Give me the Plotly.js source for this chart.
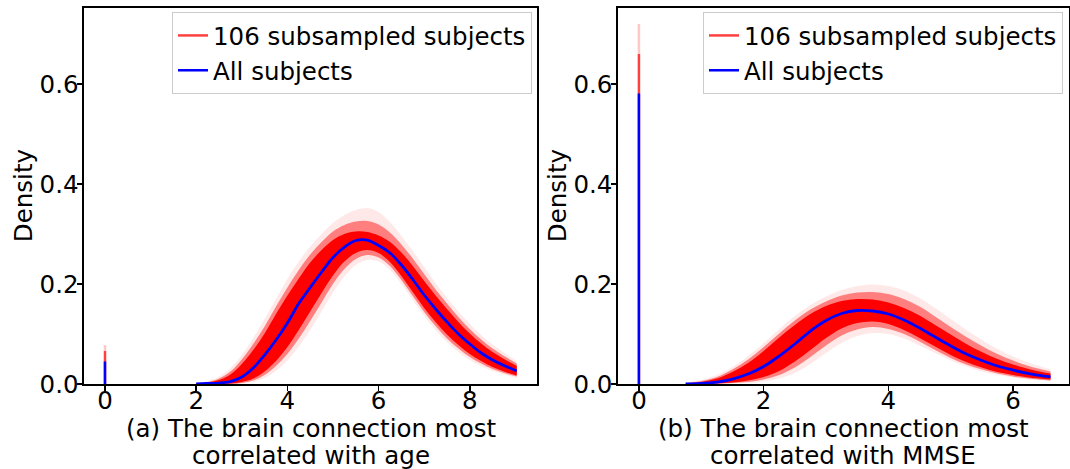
<!DOCTYPE html>
<html>
<head>
<meta charset="utf-8">
<script src="https://cdn.plot.ly/plotly-3.0.1.min.js"></script>
<style>html,body{margin:0;padding:0;background:#fff;}#chart{width:1070px;height:469px;}</style>
</head>
<body>
<div id="chart"></div>
<script>
// ---------- Panel (a): connection most correlated with age ----------
const ageX        = [2.0,2.25,2.5,2.75,3.0,3.25,3.5,3.75,4.0,4.25,4.5,4.75,5.0,5.25,5.5,5.75,6.0,6.25,6.5,6.75,7.0,7.25,7.5,7.75,8.0,8.25,8.5,8.75,9.03];
const ageAll      = [0.000,0.001,0.002,0.005,0.014,0.032,0.058,0.088,0.122,0.161,0.193,0.224,0.253,0.274,0.287,0.288,0.277,0.262,0.238,0.209,0.178,0.150,0.124,0.100,0.080,0.062,0.048,0.037,0.026];
const ageCoreHi   = [0.001,0.003,0.008,0.019,0.040,0.068,0.101,0.140,0.177,0.211,0.243,0.268,0.288,0.300,0.305,0.304,0.297,0.284,0.263,0.236,0.206,0.177,0.150,0.124,0.101,0.081,0.064,0.050,0.036];
const ageCoreLo   = [0.000,0.000,0.000,0.001,0.004,0.011,0.025,0.046,0.074,0.108,0.145,0.182,0.217,0.245,0.262,0.268,0.262,0.244,0.216,0.184,0.152,0.124,0.099,0.078,0.060,0.046,0.034,0.025,0.017];
const ageMidHi    = [0.001,0.004,0.011,0.025,0.049,0.080,0.115,0.155,0.193,0.228,0.259,0.284,0.305,0.318,0.325,0.326,0.319,0.303,0.279,0.251,0.220,0.189,0.161,0.134,0.110,0.089,0.071,0.056,0.041];
const ageMidLo    = [0.000,0.000,0.000,0.000,0.002,0.007,0.018,0.036,0.060,0.091,0.126,0.163,0.200,0.230,0.250,0.258,0.253,0.236,0.208,0.176,0.144,0.116,0.091,0.071,0.054,0.041,0.030,0.022,0.015];
const ageFringeHi = [0.002,0.006,0.015,0.032,0.058,0.092,0.130,0.170,0.210,0.245,0.275,0.300,0.322,0.338,0.348,0.352,0.344,0.324,0.296,0.266,0.234,0.202,0.172,0.145,0.120,0.098,0.079,0.063,0.046];
const ageFringeLo = [0.000,0.000,0.000,0.000,0.001,0.004,0.012,0.026,0.047,0.075,0.108,0.145,0.183,0.215,0.238,0.248,0.245,0.228,0.200,0.168,0.136,0.108,0.084,0.064,0.048,0.036,0.026,0.019,0.012];
const ageSpikeAll = 0.045;          // point mass at 0, all subjects
const ageSpikeSub = [0.066, 0.078]; // subsampled: dense top, faint top

// ---------- Panel (b): connection most correlated with MMSE ----------
const mmseX        = [0.75,1.0,1.25,1.5,1.75,2.0,2.25,2.5,2.75,3.0,3.25,3.5,3.75,4.0,4.25,4.5,4.75,5.0,5.25,5.5,5.75,6.0,6.25,6.5,6.6];
const mmseAll      = [0.000,0.001,0.004,0.010,0.020,0.035,0.056,0.080,0.106,0.127,0.141,0.147,0.146,0.140,0.128,0.112,0.094,0.076,0.060,0.047,0.036,0.028,0.021,0.016,0.0145];
const mmseCoreHi   = [0.001,0.004,0.011,0.024,0.042,0.066,0.093,0.118,0.140,0.156,0.166,0.170,0.169,0.163,0.152,0.137,0.118,0.099,0.080,0.064,0.050,0.039,0.030,0.023,0.021];
const mmseCoreLo   = [0.000,0.000,0.001,0.003,0.007,0.014,0.026,0.045,0.068,0.092,0.111,0.122,0.125,0.120,0.108,0.092,0.075,0.058,0.044,0.033,0.024,0.018,0.013,0.010,0.009];
const mmseMidHi    = [0.002,0.006,0.014,0.029,0.049,0.074,0.101,0.127,0.149,0.165,0.177,0.183,0.184,0.180,0.170,0.155,0.135,0.114,0.094,0.076,0.060,0.047,0.036,0.028,0.025];
const mmseMidLo    = [0.000,0.000,0.0005,0.002,0.004,0.009,0.018,0.033,0.054,0.077,0.097,0.109,0.114,0.110,0.100,0.085,0.068,0.052,0.039,0.029,0.021,0.015,0.011,0.008,0.007];
const mmseFringeHi = [0.003,0.008,0.018,0.034,0.056,0.082,0.110,0.136,0.158,0.175,0.188,0.196,0.199,0.196,0.187,0.172,0.152,0.130,0.108,0.088,0.070,0.055,0.043,0.033,0.030];
const mmseFringeLo = [0.000,0.000,0.000,0.001,0.002,0.005,0.011,0.022,0.040,0.062,0.082,0.096,0.102,0.100,0.091,0.077,0.062,0.047,0.035,0.025,0.018,0.013,0.009,0.007,0.006];
const mmseSpikeAll = 0.581;
const mmseSpikeSub = [0.660, 0.720];

const legendSub = '106 subsampled subjects';
const legendAll = 'All subjects';
const xTitleA = ['(a) The brain connection most', 'correlated with age'];
const xTitleB = ['(b) The brain connection most', 'correlated with MMSE'];
const yTitle = 'Density';
const yTicks = [0, 0.2, 0.4, 0.6];

const RED = '#ff0000', FRINGE = 'rgba(255,0,0,0.09)', MID = 'rgba(255,0,0,0.45)', BLUE = '#0000ff';

function band(xa, ya, X, lo, hi, color) {
  const sp = {shape: 'spline', smoothing: 1};
  return [
    {x: X, y: lo, xaxis: xa, yaxis: ya, mode: 'lines', line: Object.assign({width: 0, color: color}, sp), showlegend: false, hoverinfo: 'skip'},
    {x: X, y: hi, xaxis: xa, yaxis: ya, mode: 'lines', fill: 'tonexty', fillcolor: color, line: Object.assign({width: 0, color: color}, sp), showlegend: false, hoverinfo: 'skip'}
  ];
}

function panel(xa, ya, leg, X, all, cHi, cLo, mHi, mLo, fHi, fLo, spikeAll, spikeSub) {
  return [].concat(
    band(xa, ya, X, fLo, fHi, FRINGE),
    band(xa, ya, X, mLo, mHi, MID),
    band(xa, ya, X, cLo, cHi, RED),
    [
      {x: [0, 0], y: [spikeSub[0], spikeSub[1]], xaxis: xa, yaxis: ya, mode: 'lines', line: {width: 2.5, color: 'rgba(255,0,0,0.22)'}, showlegend: false, hoverinfo: 'skip'},
      {x: [0, 0], y: [0, spikeSub[0]], xaxis: xa, yaxis: ya, mode: 'lines', name: legendSub, legend: leg, line: {width: 2.5, color: 'rgba(255,0,0,0.75)'}, showlegend: true},
      {x: X, y: all, xaxis: xa, yaxis: ya, mode: 'lines', line: {width: 2.8, color: BLUE, shape: 'spline', smoothing: 1}, showlegend: false},
      {x: [0, 0], y: [0, spikeAll], xaxis: xa, yaxis: ya, mode: 'lines', name: legendAll, legend: leg, line: {width: 2.5, color: BLUE}, showlegend: true}
    ]
  );
}

const data = [].concat(
  panel('x', 'y', 'legend', ageX, ageAll, ageCoreHi, ageCoreLo, ageMidHi, ageMidLo, ageFringeHi, ageFringeLo, ageSpikeAll, ageSpikeSub),
  panel('x2', 'y2', 'legend2', mmseX, mmseAll, mmseCoreHi, mmseCoreLo, mmseMidHi, mmseMidLo, mmseFringeHi, mmseFringeLo, mmseSpikeAll, mmseSpikeSub)
);

const FONT = 'DejaVu Sans, Verdana, sans-serif';
const TITLE_FONT = {family: FONT, size: 24.5, color: '#000'};
const axBase = {
  showline: true, mirror: true, linecolor: '#000', linewidth: 2,
  ticks: 'outside', ticklen: 5, tickwidth: 1.5, tickcolor: '#000',
  showgrid: false, zeroline: false, automargin: false,
  tickfont: {family: FONT, size: 24.5, color: '#000'}
};
function xa(domain, range, anchor) {
  return Object.assign({}, axBase, {domain: domain, range: range, anchor: anchor, tickmode: 'linear', tick0: 0, dtick: 2,
    ticklabelstandoff: -11});
}
function ya(domain, anchor) {
  return Object.assign({}, axBase, {domain: domain, range: [0, 0.7514], anchor: anchor, tickvals: yTicks, tickformat: '.1f',
    ticklabelstandoff: -6});
}
const yDom = [0.1812, 0.9823];
const legBase = {
  font: {family: FONT, size: 24.5, color: '#000'}, bgcolor: 'rgba(255,255,255,0.8)',
  bordercolor: '#cccccc', borderwidth: 1, xanchor: 'right', yanchor: 'top', itemwidth: 30,
  tracegroupgap: 0, traceorder: 'normal'
};

// axis titles as annotations (exact placement), one annotation per line of the label
function xTitleLine(ref, text, centerPx) {
  return {text: text, xref: ref + ' domain', x: 0.5, xanchor: 'center', yref: 'paper', y: 1 - centerPx / 469, yanchor: 'middle',
    showarrow: false, align: 'center', font: TITLE_FONT};
}
function yTitleAnn(px) {
  return {text: yTitle, textangle: -90, xref: 'paper', x: px / 1070, xanchor: 'center', yref: 'paper', y: (yDom[0] + yDom[1]) / 2,
    yanchor: 'middle', showarrow: false, font: TITLE_FONT};
}

const layout = {
  width: 1070, height: 469,
  margin: {l: 0, r: 0, t: 0, b: 0},
  paper_bgcolor: '#fff', plot_bgcolor: '#fff',
  font: {family: FONT, color: '#000'},
  xaxis: xa([0.0789, 0.5017], [-0.451, 9.47], 'y'),
  yaxis: ya(yDom, 'x'),
  xaxis2: xa([0.5779, 0.9986], [-0.33, 6.889], 'y2'),
  yaxis2: ya(yDom, 'x2'),
  legend: Object.assign({}, legBase, {x: 532 / 1070, y: 1 - 12 / 469}),
  legend2: Object.assign({}, legBase, {x: 1063 / 1070, y: 1 - 12 / 469}),
  annotations: [
    xTitleLine('x', xTitleA[0], 428), xTitleLine('x', xTitleA[1], 455),
    xTitleLine('x2', xTitleB[0], 428), xTitleLine('x2', xTitleB[1], 455),
    yTitleAnn(23), yTitleAnn(557)
  ],
  showlegend: true
};

Plotly.newPlot('chart', data, layout, {displayModeBar: false, staticPlot: true});
</script>
</body>
</html>
